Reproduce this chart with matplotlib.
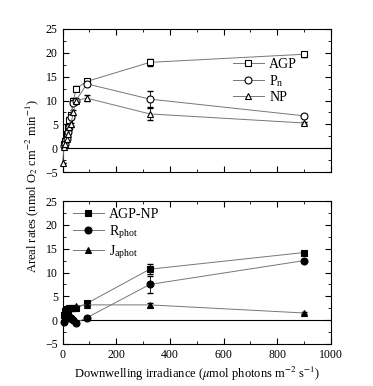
import numpy as np
import matplotlib.pyplot as plt
from matplotlib.ticker import MultipleLocator

plt.rcParams['font.family'] = ['Liberation Serif', 'DejaVu Serif']
plt.rcParams['mathtext.fontset'] = 'stix'

# top panel
x_agp = [5, 10, 15, 20, 25, 30, 40, 50, 90, 325, 900]
agp = [0.8, 1.5, 3.0, 4.5, 6.0, 7.0, 10.0, 12.5, 14.0, 18.0, 19.7]
agp_err = [0, 0, 0, 0, 0, 0, 0.5, 0.5, 0.4, 0.7, 0.5]

x_pn = [5, 10, 15, 20, 25, 30, 40, 50, 90, 325, 900]
pn = [0.5, 1.0, 2.0, 3.5, 4.5, 6.5, 9.5, 10.0, 13.5, 10.3, 6.8]
pn_err = [0, 0, 0, 0, 0, 0.4, 0.4, 0.4, 0.4, 1.7, 0.4]

x_np = [0, 5, 10, 15, 20, 25, 30, 40, 50, 90, 325, 900]
np_ = [-3.0, 0.3, 1.0, 2.0, 3.0, 4.5, 5.0, 7.5, 10.0, 10.5, 7.2, 5.3]
np_err = [0, 0, 0, 0, 0, 0.3, 0.3, 0.5, 0.4, 0.6, 1.2, 0.3]

# bottom panel
x_b = [5, 10, 15, 20, 25, 30, 40, 50, 90, 325, 900]
agp_np = [1.0, 2.0, 2.3, 2.3, 2.5, 2.5, 2.5, 2.5, 3.5, 10.7, 14.2]
agp_np_err = [0, 0, 0, 0, 0, 0, 0, 0, 0.3, 1.0, 0.3]
rphot = [-0.3, 1.0, 1.5, 1.0, 0.5, 0.5, 0.0, -0.5, 0.5, 7.5, 12.5]
rphot_err = [0, 0, 0, 0, 0, 0, 0, 0, 0.3, 1.7, 0.3]
japhot = [0.5, 1.0, 1.5, 2.0, 2.5, 2.5, 2.5, 3.0, 3.2, 3.2, 1.5]
japhot_err = [0, 0, 0, 0, 0, 0, 0, 0, 0.3, 0.5, 0.2]

fig = plt.figure(figsize=(3.73, 3.86), dpi=100)
ax1 = fig.add_axes([0.168, 0.554, 0.719, 0.371])
ax2 = fig.add_axes([0.168, 0.109, 0.719, 0.370])

lc = '#777777'
lkw = dict(color=lc, lw=0.7, ms=5, mec='k', mew=0.8, clip_on=False, zorder=3)
ekw = dict(fmt='none', ecolor='k', elinewidth=0.6, capsize=2)


def series(ax, x, y, e, marker, fill, label):
    ax.errorbar(x, y, yerr=e, **ekw)
    h, = ax.plot(x, y, marker=marker, mfc=fill, label=label, **lkw)
    return h


h1 = [series(ax1, x_agp, agp, agp_err, 's', 'white', 'AGP'),
      series(ax1, x_pn, pn, pn_err, 'o', 'white', 'P$_\\mathregular{n}$'),
      series(ax1, x_np, np_, np_err, '^', 'white', 'NP')]
h2 = [series(ax2, x_b, agp_np, agp_np_err, 's', 'k', 'AGP-NP'),
      series(ax2, x_b, rphot, rphot_err, 'o', 'k', 'R$_\\mathregular{phot}$'),
      series(ax2, x_b, japhot, japhot_err, '^', 'k', 'J$_\\mathregular{aphot}$')]

for ax in (ax1, ax2):
    ax.axhline(0, color='k', lw=0.8)
    ax.set_xlim(0, 1000)
    ax.set_ylim(-5, 25)
    ax.xaxis.set_major_locator(MultipleLocator(200))
    ax.xaxis.set_minor_locator(MultipleLocator(100))
    ax.yaxis.set_major_locator(MultipleLocator(5))
    ax.yaxis.set_minor_locator(MultipleLocator(2.5))
    ax.tick_params(which='both', direction='in', top=True, right=True, labelsize=8.5)
    ax.tick_params(which='major', length=4)
    ax.tick_params(which='minor', length=2)
    for s in ax.spines.values():
        s.set_linewidth(0.8)

ax1.set_xticklabels([])
lg = dict(frameon=False, fontsize=10, handlelength=2.2, handletextpad=0.4,
          labelspacing=0.15, borderpad=0, borderaxespad=0, loc='upper left',
          bbox_transform=fig.transFigure)
ax1.legend(handles=h1, bbox_to_anchor=(0.625, 0.85), **lg)
ax2.legend(handles=h2, bbox_to_anchor=(0.196, 0.461), **lg)

ax2.set_xlabel('Downwelling irradiance ($\\mu$mol photons m$^{-2}$ s$^{-1}$)', fontsize=9, labelpad=3)
fig.text(0.086, 0.518, 'Areal rates (nmol O$_2$ cm$^{-2}$ min$^{-1}$)', rotation=90,
         va='center', ha='center', fontsize=9)

fig.savefig('out.png', dpi=100)
